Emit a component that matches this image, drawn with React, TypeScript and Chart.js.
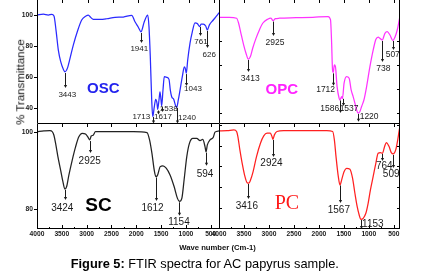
import React, { useEffect, useRef } from 'react';
import { Chart, registerables } from 'chart.js';

Chart.register(...registerables);

const W = 426;
const H = 275;
const FONT = '"Liberation Sans", Arial, Helvetica, sans-serif';

// ---------- data ----------
const X_TICKS = [4000, 3500, 3000, 2500, 2000, 1500, 1000, 500];

// OSC (top left)
const OSC_WN = [4000, 3875, 3776, 3709, 3664, 3624, 3578, 3531, 3479, 3446, 3400, 3347, 3282, 3203, 3116, 3031, 2985, 2938, 2886, 2754, 2621, 2457, 2293, 2127, 2062, 1996, 1943, 1878, 1810, 1785, 1759, 1731, 1711, 1680, 1652, 1626, 1613, 1587, 1567, 1547, 1534, 1508, 1482, 1435, 1389, 1363, 1336, 1296, 1257, 1237, 1205, 1165, 1126, 1086, 1067, 1047, 1019, 974, 928, 875, 830, 780, 756, 710, 663, 631, 592, 513, 447, 400];
const OSC_T = [100, 100.6, 100, 100.4, 99.4, 90.3, 77.4, 69.9, 65, 63.4, 65.6, 72, 80.6, 89.2, 96.8, 99.4, 100, 98.5, 97.2, 97.2, 97.6, 98.5, 98.7, 99.8, 95.7, 92.1, 89.2, 95.7, 100, 92.5, 73.1, 45.2, 34.4, 40.8, 45.6, 43, 39.2, 45.2, 50.5, 45.2, 41.3, 51.6, 60.2, 59.8, 58.5, 51.6, 47.3, 45.6, 41.3, 40.5, 45.2, 52.7, 60.2, 66.6, 65.6, 62.4, 71, 81.7, 89.2, 95, 94.6, 92.5, 94.2, 94.2, 92.9, 90.3, 93.5, 96.8, 99.4, 101.5];
const OSC_Y_TICKS = [100, 80, 60, 40];
const OSC_PEAKS = ['3443', '1941', '1713', '1617', '1538', '1240', '1043', '761', '626'];

// OPC (top right)
const OPC_WN = [4000, 3794, 3648, 3608, 3562, 3508, 3461, 3413, 3373, 3327, 3261, 3193, 3127, 3027, 2961, 2921, 2873, 2793, 2460, 2126, 1820, 1772, 1752, 1732, 1720, 1694, 1674, 1641, 1601, 1585, 1548, 1534, 1501, 1453, 1400, 1360, 1320, 1285, 1251, 1219, 1185, 1151, 1105, 1051, 985, 919, 865, 819, 785, 739, 685, 639, 585, 525, 485, 439, 399, 384];
const OPC_T = [100, 100, 99.6, 97.5, 93.3, 88.5, 85, 82.5, 83.6, 87.1, 91.2, 94.7, 97.5, 99.2, 99.6, 98.6, 99.4, 99.6, 99.8, 100, 100.3, 98.9, 90.5, 78, 76.9, 80.1, 79.4, 71.1, 66.3, 65.5, 66.9, 66.1, 72.5, 75.3, 74.6, 69.7, 66.9, 64.2, 61.4, 60, 60.7, 62.8, 65.5, 71.1, 79.4, 86.4, 90.8, 91.7, 91.2, 90.5, 93.3, 94, 92.6, 90.3, 91.7, 94.7, 98.9, 100.5];
const OPC_Y_TICKS = [90, 80, 70, 60];
const OPC_PEAKS = ['3413', '2925', '1712', '1586', '1537', '1220', '738', '507'];

// SC (bottom left)
const SC_WN = [4000, 3860, 3739, 3691, 3659, 3625, 3579, 3524, 3478, 3438, 3404, 3358, 3290, 3223, 3157, 3089, 3023, 2976, 2936, 2908, 2868, 2822, 2722, 2386, 2053, 1784, 1732, 1684, 1638, 1604, 1571, 1517, 1463, 1397, 1317, 1236, 1170, 1130, 1082, 1036, 982, 929, 861, 781, 715, 661, 614, 594, 568, 514, 448, 414, 333];
const SC_T = [100, 100.2, 100.3, 100, 99.1, 97, 93.6, 90.1, 87.1, 85.2, 85.8, 88.8, 92.7, 96.1, 98.7, 99.6, 99.4, 98.7, 97.9, 98.9, 99.1, 100, 100, 100, 100, 99.8, 97.9, 94.4, 90.1, 88.4, 88.8, 91, 91.2, 90.6, 88.8, 85.8, 82.8, 82, 82.8, 87.6, 93.6, 97, 98.3, 98.3, 97.7, 98, 96.1, 94.8, 96.6, 97.9, 98.6, 99.9, 100.2];
const SC_Y_TICKS = [100, 80];
const SC_PEAKS = ['3424', '2925', '1612', '1154', '594'];

// PC (bottom right)
const PC_WN = [4000, 3835, 3701, 3648, 3622, 3582, 3536, 3488, 3436, 3403, 3369, 3317, 3249, 3170, 3104, 3038, 2971, 2939, 2919, 2891, 2839, 2706, 2441, 2109, 1844, 1724, 1690, 1657, 1611, 1577, 1545, 1497, 1446, 1378, 1326, 1279, 1233, 1193, 1159, 1113, 1060, 1014, 968, 914, 860, 814, 768, 728, 681, 649, 595, 550, 510, 462, 416, 396, 378];
const PC_T = [97, 97.1, 97.5, 96.7, 94.3, 87.9, 81.5, 75.9, 72.2, 72, 73.5, 77.5, 84.7, 91.1, 94.6, 95.9, 95.9, 94.3, 93, 95.1, 96.7, 97.1, 97.1, 97.1, 97.1, 96.7, 92.7, 84.7, 75.1, 71.1, 73.5, 77.5, 79.1, 78.7, 74.4, 67.2, 60.8, 56.8, 54.7, 55.2, 57.6, 62.4, 68.8, 75.1, 81.5, 86.3, 86.6, 86.3, 89.8, 91.4, 89.5, 86.6, 86, 87.9, 93.5, 96.7, 99];
const PC_Y_TICKS = [100, 90, 80, 70, 60];
const PC_PEAKS = ['3416', '2924', '1567', '1153', '764', '509'];

// ---------- annotation geometry (data units: arrow x, arrow top, arrow bottom, text x, text y) ----------
type Mark = [number, number, number, number, number];
const OSC_MARKS: Mark[] = [
  [3446, 62.6, 52.9, 3401, 48.4],
  [1943, 88.4, 81.9, 1977, 78.5],
  [1711, 34.2, 30.0, 1937, 34.4],
  [1613, 38.4, 35.8, 1508, 34.4],
  [1534, 40.6, 37.4, 1395, 39.8],
  [1237, 40.0, 30.0, 1033, 34.0],
  [1047, 61.9, 54.2, 914, 52.1],
  [780, 92.3, 86.5, 756, 82.8],
  [631, 89.7, 78.7, 594, 74.6],
];
const OPC_MARKS: Mark[] = [
  [3413, 82.2, 77.2, 3377, 74.3],
  [2921, 98.2, 92.2, 2883, 89.6],
  [1720, 76.6, 71.4, 1870, 70.0],
  [1590, 65.3, 60.1, 1786, 62.1],
  [1532, 66.0, 63.0, 1401, 61.8],
  [1219, 59.7, 56.4, 1001, 58.6],
  [739, 90.1, 81.4, 715, 78.7],
  [525, 90.1, 86.4, 529, 84.6],
];
const SC_MARKS: Mark[] = [
  [3438, 85.0, 82.4, 3490, 80.3],
  [2936, 97.6, 94.5, 2938, 92.5],
  [1604, 88.2, 82.1, 1672, 80.3],
  [1130, 81.8, 78.3, 1140, 76.6],
  [594, 94.6, 91.2, 614, 89.1],
];
const PC_MARKS: Mark[] = [
  [3417, 71.6, 64.4, 3443, 60.8],
  [2919, 92.7, 84.5, 2949, 81.5],
  [1571, 70.9, 62.5, 1601, 58.9],
  [1147, 54.4, 50.1, 920, 52.3],
  [729, 86.0, 82.6, 691, 79.9],
  [510, 85.5, 79.3, 552, 76.3],
];

type PanelCfg = {
  wn: number[];
  t: number[];
  color: string;
  xMin: number;
  yMin: number;
  yMax: number;
  pad: { left: number; top: number; right: number; bottom: number };
  showX: boolean;
  showY: boolean;
  yTicks: number[];
  peaks: string[];
  marks: Mark[];
  labelSize: number;
  name: string;
  nameFont: string;
  nameColor: string;
  namePos: [number, number];
  isLeft: boolean;
  isTop: boolean;
};

const PANELS: PanelCfg[] = [
  {
    wn: OSC_WN, t: OSC_T, color: '#2a2aff', xMin: 400, yMin: 29.7, yMax: 109.7,
    pad: { left: 0, top: 0, right: 207, bottom: 151 }, showX: false, showY: true,
    yTicks: OSC_Y_TICKS, peaks: OSC_PEAKS, marks: OSC_MARKS, labelSize: 8,
    name: 'OSC', nameFont: `bold 15px ${FONT}`, nameColor: '#2323ee', namePos: [2689, 52.3],
    isLeft: true, isTop: true,
  },
  {
    wn: OPC_WN, t: OPC_T, color: '#ff33ff', xMin: 384, yMin: 55.5, yMax: 107.2,
    pad: { left: 219, top: 0, right: 26, bottom: 151 }, showX: false, showY: false,
    yTicks: OPC_Y_TICKS, peaks: OPC_PEAKS, marks: OPC_MARKS, labelSize: 8.5,
    name: 'OPC', nameFont: `bold 15px ${FONT}`, nameColor: '#ff22ff', namePos: [2747, 69.8],
    isLeft: false, isTop: true,
  },
  {
    wn: SC_WN, t: SC_T, color: '#222222', xMin: 333, yMin: 74.9, yMax: 102.0,
    pad: { left: 0, top: 124, right: 207, bottom: 34 }, showX: true, showY: true,
    yTicks: SC_Y_TICKS, peaks: SC_PEAKS, marks: SC_MARKS, labelSize: 10,
    name: 'SC', nameFont: `bold 19px ${FONT}`, nameColor: '#000000', namePos: [2762, 80.9],
    isLeft: true, isTop: false,
  },
  {
    wn: PC_WN, t: PC_T, color: '#ff2020', xMin: 376, yMin: 50.1, yMax: 100.3,
    pad: { left: 219, top: 124, right: 26, bottom: 34 }, showX: true, showY: false,
    yTicks: PC_Y_TICKS, peaks: PC_PEAKS, marks: PC_MARKS, labelSize: 10,
    name: 'PC', nameFont: `20px "Liberation Serif", "Times New Roman", serif`, nameColor: '#ff1a1a', namePos: [2640, 62.2],
    isLeft: false, isTop: false,
  },
];

const decor = {
  id: 'decor',
  afterDatasetsDraw(chart: any, _args: any, opts: any) {
    const p: PanelCfg = opts.panel;
    const { ctx, chartArea: a } = chart;
    const xs = chart.scales.x;
    const ys = chart.scales.y;
    ctx.save();
    ctx.strokeStyle = '#000';
    ctx.lineWidth = 1;
    const L = a.left + 0.5;
    const R = a.right - 0.5;
    const B = a.bottom - 0.5;
    const T = a.top;
    ctx.beginPath();
    ctx.moveTo(L, T);
    ctx.lineTo(L, B);
    ctx.lineTo(a.right, B);
    if (!p.isLeft) {
      ctx.moveTo(R, T);
      ctx.lineTo(R, a.bottom);
    }
    for (const v of p.yTicks) {
      const y = Math.round(ys.getPixelForValue(v)) + 0.5;
      if (p.isLeft) {
        ctx.moveTo(a.left - 3, y);
        ctx.lineTo(a.left, y);
      } else {
        ctx.moveTo(a.left, y);
        ctx.lineTo(a.left + 3, y);
        ctx.moveTo(a.right, y);
        ctx.lineTo(a.right - 3, y);
      }
    }
    for (let v = 4000; v >= p.xMin; v -= 250) {
      const x = Math.round(xs.getPixelForValue(v)) + 0.5;
      const major = v % 500 === 0;
      if (!p.isTop) {
        ctx.moveTo(x, a.bottom);
        ctx.lineTo(x, a.bottom - (major ? 4 : 2));
        if (major) {
          ctx.moveTo(x, a.top);
          ctx.lineTo(x, a.top + 3);
        }
      } else if (major) {
        ctx.moveTo(x, a.top);
        ctx.lineTo(x, a.top + 3);
      }
    }
    ctx.stroke();

    ctx.fillStyle = '#1a1a1a';
    ctx.strokeStyle = '#1a1a1a';
    ctx.font = `${p.labelSize}px ${FONT}`;
    ctx.textAlign = 'center';
    ctx.textBaseline = 'middle';
    p.marks.forEach((m, i) => {
      const x = Math.round(xs.getPixelForValue(m[0])) + 0.5;
      const y1 = ys.getPixelForValue(m[1]);
      const y2 = ys.getPixelForValue(m[2]);
      ctx.beginPath();
      ctx.moveTo(x, y1);
      ctx.lineTo(x, y2 - 2);
      ctx.stroke();
      ctx.beginPath();
      ctx.moveTo(x - 1.6, y2 - 3);
      ctx.lineTo(x + 1.6, y2 - 3);
      ctx.lineTo(x, y2);
      ctx.closePath();
      ctx.fill();
      ctx.fillText(p.peaks[i], xs.getPixelForValue(m[3]), ys.getPixelForValue(m[4]));
    });

    ctx.font = p.nameFont;
    ctx.fillStyle = p.nameColor;
    ctx.fillText(p.name, xs.getPixelForValue(p.namePos[0]), ys.getPixelForValue(p.namePos[1]));
    ctx.restore();
  },
};

function Panel({ cfg }: { cfg: PanelCfg }) {
  const ref = useRef<HTMLCanvasElement | null>(null);
  useEffect(() => {
    if (!ref.current) return;
    const tickFont = { family: FONT, size: 6.7, weight: 'bold' as const };
    const chart = new Chart(ref.current, {
      type: 'line',
      data: {
        datasets: [
          {
            data: cfg.wn.map((w, i) => ({ x: w, y: cfg.t[i] })),
            borderColor: cfg.color,
            borderWidth: 1.25,
            pointRadius: 0,
            fill: false,
            cubicInterpolationMode: 'monotone',
          },
        ],
      },
      options: {
        animation: false,
        responsive: false,
        devicePixelRatio: 1,
        events: [],
        layout: { padding: cfg.pad },
        plugins: {
          legend: { display: false },
          tooltip: { enabled: false },
          decor: { panel: cfg },
        } as any,
        scales: {
          x: {
            type: 'linear',
            reverse: true,
            min: cfg.xMin,
            max: 4000,
            display: cfg.showX,
            grid: { display: false, drawTicks: false },
            border: { display: false },
            ticks: {
              font: tickFont,
              color: '#1a1a1a',
              padding: 1,
              maxRotation: 0,
              autoSkip: false,
              callback: (v: any) => String(v),
            },
            afterBuildTicks: (s: any) => {
              s.ticks = X_TICKS.map((v) => ({ value: v }));
            },
            afterFit: (s: any) => {
              if (cfg.showX) s.height = 12;
              s.paddingLeft = 0;
              s.paddingRight = 0;
            },
          },
          y: {
            type: 'linear',
            min: cfg.yMin,
            max: cfg.yMax,
            display: cfg.showY,
            grid: { display: false, drawTicks: false },
            border: { display: false },
            ticks: {
              font: tickFont,
              color: '#1a1a1a',
              padding: 4,
              autoSkip: false,
              callback: (v: any) => String(v),
            },
            afterBuildTicks: (s: any) => {
              s.ticks = cfg.yTicks.map((v) => ({ value: v }));
            },
            afterFit: (s: any) => {
              if (cfg.showY) s.width = 37;
              s.paddingTop = 0;
              s.paddingBottom = 0;
            },
          },
        },
      } as any,
      plugins: [decor as any],
    });
    return () => chart.destroy();
  }, [cfg]);
  return (
    <canvas
      ref={ref}
      width={W}
      height={H}
      style={{ position: 'absolute', left: 0, top: 0, width: W, height: H }}
    />
  );
}

export default function App() {
  return (
    <div
      style={{
        position: 'fixed',
        left: 0,
        top: 0,
        width: W,
        height: H,
        background: '#fff',
        overflow: 'hidden',
        fontFamily: FONT,
      }}
    >
      {PANELS.map((p, i) => (
        <Panel key={i} cfg={p} />
      ))}
      <div
        style={{
          position: 'absolute',
          left: 21,
          top: 81.5,
          transform: 'translate(-50%, -50%) rotate(-90deg)',
          whiteSpace: 'nowrap',
          fontSize: 11.5,
          lineHeight: '1',
          color: '#111',
        }}
      >
        % Transmittance
      </div>
      <div
        style={{
          position: 'absolute',
          left: 217.5,
          top: 248.3,
          transform: 'translate(-50%, -50%)',
          whiteSpace: 'nowrap',
          fontSize: 7.7,
          fontWeight: 'bold',
          lineHeight: '1',
          color: '#111',
        }}
      >
        Wave number (Cm-1)
      </div>
      <div
        style={{
          position: 'absolute',
          left: 70.7,
          top: 264,
          transform: 'translateY(-50%)',
          whiteSpace: 'nowrap',
          fontSize: 12.8,
          lineHeight: '1',
          color: '#000',
        }}
      >
        <b>Figure 5:</b> FTIR spectra for AC papyrus sample.
      </div>
    </div>
  );
}
